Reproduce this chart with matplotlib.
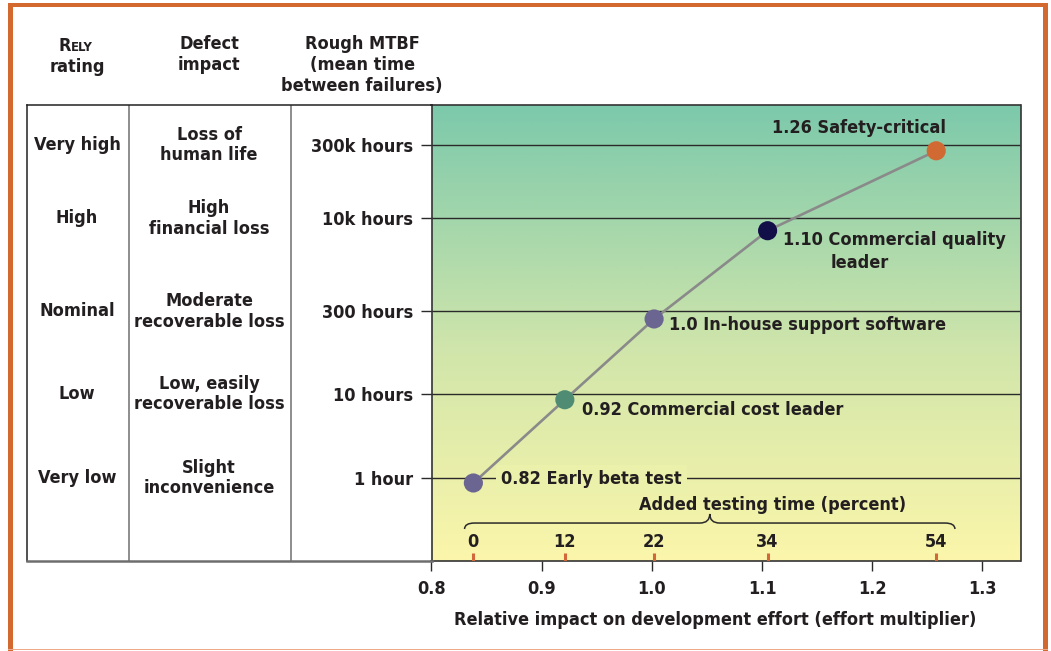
import matplotlib
matplotlib.use('Agg')
import matplotlib.pyplot as plt
import numpy as np
from matplotlib import font_manager as fm
from matplotlib.colors import LinearSegmentedColormap
from matplotlib.path import Path
from matplotlib.patches import PathPatch, Rectangle

# ---------------- data ----------------
rely_ratings = ['Very low', 'Low', 'Nominal', 'High', 'Very high']
defect_impacts = ['Slight\ninconvenience', 'Low, easily\nrecoverable loss',
                  'Moderate\nrecoverable loss', 'High\nfinancial loss',
                  'Loss of\nhuman life']
mtbf_labels = ['1 hour', '10 hours', '300 hours', '10k hours', '300k hours']
mtbf_levels = [0.0, 1.01, 2.0, 3.12, 4.0]

effort_x = [0.838, 0.921, 1.002, 1.105, 1.258]
effort_y = [-0.06, 0.94, 1.91, 2.97, 3.93]
point_labels = ['0.82 Early beta test', '0.92 Commercial cost leader',
                '1.0 In-house support software', '1.10 Commercial quality\nleader',
                '1.26 Safety-critical']
point_colors = ['#6B6592', '#4F8C73', '#6B6592', '#120E48', '#D06A32']
added_testing = ['0', '12', '22', '34', '54']
x_ticks = [0.8, 0.9, 1.0, 1.1, 1.2, 1.3]

# ---------------- fonts ----------------
names = {f.name for f in fm.fontManager.ttflist}
if 'Liberation Sans Narrow' in names:
    FONT = 'Liberation Sans Narrow'
    STRETCH = 'normal'
else:
    FONT = 'DejaVu Sans'
    STRETCH = 'condensed'
plt.rcParams['font.family'] = [FONT, 'DejaVu Sans']
plt.rcParams['font.weight'] = 'bold'
plt.rcParams['font.stretch'] = STRETCH
plt.rcParams['axes.labelweight'] = 'bold'
FS = 13
TXT = '#231F20'
LS = 1.2

W, H = 1051, 651
fig = plt.figure(figsize=(W / 100, H / 100), dpi=100)

# plot area geometry (pixels)
PL, PR, PT, PB = 431.5, 1020.5, 105, 561
TL = 27
ax = fig.add_axes([PL / W, 1 - PB / H, (PR - PL) / W, (PB - PT) / H])
tab = fig.add_axes([TL / W, 1 - PB / H, (PL - TL) / W, (PB - PT) / H])

XLIM = (0.8, 1.3345)
YLIM = (-0.997, 4.48)
ax.set_xlim(*XLIM)
ax.set_ylim(*YLIM)

# gradient background
cmap = LinearSegmentedColormap.from_list(
    'bg', [(0.0, '#FBF6AA'), (0.45, '#D2E6AB'), (1.0, '#7CC9AB')])
ax.imshow(np.linspace(0, 1, 256).reshape(-1, 1), extent=[*XLIM, *YLIM],
          origin='lower', aspect='auto', cmap=cmap, zorder=0)

# horizontal level lines and y ticks
ax.hlines(mtbf_levels, XLIM[0], XLIM[1], color='#2A2A2A', lw=1.0, zorder=1)
ax.set_yticks(mtbf_levels)
ax.set_yticklabels(mtbf_labels, fontsize=FS, color=TXT)
ax.tick_params(axis='y', direction='out', length=8, width=1.0, color='#2A2A2A', pad=5)

# x axis
ax.set_xticks(x_ticks)
ax.set_xticklabels([f'{v:.1f}' for v in x_ticks], fontsize=FS, color=TXT)
ax.tick_params(axis='x', direction='out', length=7, width=1.0, color='#2A2A2A', pad=7)
ax.set_xlabel('Relative impact on development effort (effort multiplier)',
              fontsize=FS, color=TXT)
ax.xaxis.set_label_coords((715 - PL) / (PR - PL), -(620 - PB) / (PB - PT))
ax.xaxis.label.set_va('center')
for s in ax.spines.values():
    s.set_color('#333333')
    s.set_linewidth(1.2)

# curve and points
ax.plot(effort_x, effort_y, color='#8A8A8A', lw=1.9, zorder=3)
ax.scatter(effort_x, effort_y, s=190, c=point_colors, zorder=4, linewidths=0)

# point labels (offsets in pixels from each point)
frac = (effort_y[0] + 0.05 - YLIM[0]) / (YLIM[1] - YLIM[0])
offsets = [(28, 4), (17, -10), (15, -6), (15, -9), (-77, 23)]
for i, (lab, (dx, dy)) in enumerate(zip(point_labels, offsets)):
    if i == 3:
        first, second = lab.split('\n')
        ax.annotate(first, (effort_x[i], effort_y[i]), xytext=(dx, dy),
                    textcoords='offset pixels', ha='left', va='center',
                    fontsize=FS, color=TXT, zorder=5)
        ax.annotate(second, (effort_x[i], effort_y[i]), xytext=(dx + 48, dy - 23),
                    textcoords='offset pixels', ha='left', va='center',
                    fontsize=FS, color=TXT, zorder=5)
        continue
    kw = {}
    if i == 0:
        kw['bbox'] = dict(boxstyle='square,pad=0.3', fc=cmap(frac), ec='none')
    ax.annotate(lab, (effort_x[i], effort_y[i]), xytext=(dx, dy),
                textcoords='offset pixels', ha='center' if i == 4 else 'left',
                va='center', fontsize=FS, color=TXT, zorder=5, **kw)

# added testing time ticks and labels
tick_h = 0.1
ax.vlines(effort_x, YLIM[0], YLIM[0] + tick_h, color='#D2683A', lw=2.2, zorder=3)
for xv, lab in zip(effort_x, added_testing):
    ax.annotate(lab, (xv, YLIM[0]), xytext=(0, 19), textcoords='offset pixels',
                ha='center', va='center', fontsize=FS, color=TXT)

# curly brace
bl = effort_x[0] - 0.008
br = effort_x[-1] + 0.017
bm = (bl + br) / 2
yb, yh, yp = -0.613, -0.541, -0.432
dxc = 0.009
verts = [(bl, yb), (bl, yh), (bl + dxc, yh),
         (bm - dxc, yh), (bm, yh), (bm, yp),
         (bm, yh), (bm + dxc, yh),
         (br - dxc, yh), (br, yh), (br, yb)]
codes = [Path.MOVETO, Path.CURVE3, Path.CURVE3,
         Path.LINETO, Path.CURVE3, Path.CURVE3,
         Path.CURVE3, Path.CURVE3,
         Path.LINETO, Path.CURVE3, Path.CURVE3]
ax.add_patch(PathPatch(Path(verts, codes), fc='none', ec='#2A2A2A', lw=1.1, zorder=3))
ax.text(bm + 0.057, yp + 0.108, 'Added testing time (percent)', ha='center', va='center',
        fontsize=FS, color=TXT)

# ---------------- table ----------------
tab.set_xlim(0, 1)
tab.set_ylim(*YLIM)
tab.set_xticks([])
tab.set_yticks([])
tab.patch.set_alpha(0)
tab.spines['right'].set_visible(False)
tab.spines['left'].set_color('#222222')
tab.spines['left'].set_linewidth(1.1)
tab.spines['top'].set_color('#222222')
tab.spines['top'].set_linewidth(1.1)
tab.spines['bottom'].set_color('#6E6E6E')
tab.spines['bottom'].set_linewidth(1.8)
tw = PL - TL
for xp in (129, 291):
    tab.axvline((xp - TL) / tw, color='#7A7A7A', lw=1.2)
c1 = (77 - TL) / tw
c2 = (209 - TL) / tw
c3 = (362 - TL) / tw
for lvl, r, d in zip(mtbf_levels, rely_ratings, defect_impacts):
    tab.text(c1, lvl, r, ha='center', va='center', fontsize=FS, color=TXT)
    tab.text(c2, lvl, d, ha='center', va='center', fontsize=FS, color=TXT,
             linespacing=LS)

# headers
pxu = (PB - PT) / (YLIM[1] - YLIM[0])
hy = YLIM[1] + (PT - 35) / pxu
tab.text(c2, hy, 'Defect\nimpact', ha='center', va='top', fontsize=FS, color=TXT,
         linespacing=LS, clip_on=False)
tab.text(c3, hy, 'Rough MTBF\n(mean time\nbetween failures)', ha='center', va='top',
         fontsize=FS, color=TXT, linespacing=LS, clip_on=False)
tab.text(c1, hy - 23 / pxu, 'rating', ha='center', va='top', fontsize=FS, color=TXT,
         clip_on=False)
rx = (71 - TL) / tw
tab.text(rx, hy - 16 / pxu, 'R', ha='right', va='baseline', fontsize=FS, color=TXT,
         clip_on=False)
tab.text(rx, hy - 16 / pxu, 'ELY', ha='left', va='baseline', fontsize=FS * 0.72, color=TXT,
         clip_on=False)

# ---------------- orange frame ----------------
OR = '#D4692F'
fig.patches.append(Rectangle((7.5 / W, 0), 5 / W, 1 - 3 / H, transform=fig.transFigure,
                             fc=OR, ec='none'))
fig.patches.append(Rectangle((1043 / W, 0), 5 / W, 1 - 3 / H, transform=fig.transFigure,
                             fc=OR, ec='none'))
fig.patches.append(Rectangle((7.5 / W, 1 - 7 / H), (1048 - 7.5) / W, 4 / H,
                             transform=fig.transFigure, fc=OR, ec='none'))
fig.patches.append(Rectangle((7.5 / W, 1 / H), (1048 - 7.5) / W, 1.5 / H,
                             transform=fig.transFigure, fc='#EDA98A', ec='none'))

fig.savefig('out.png', dpi=100)
